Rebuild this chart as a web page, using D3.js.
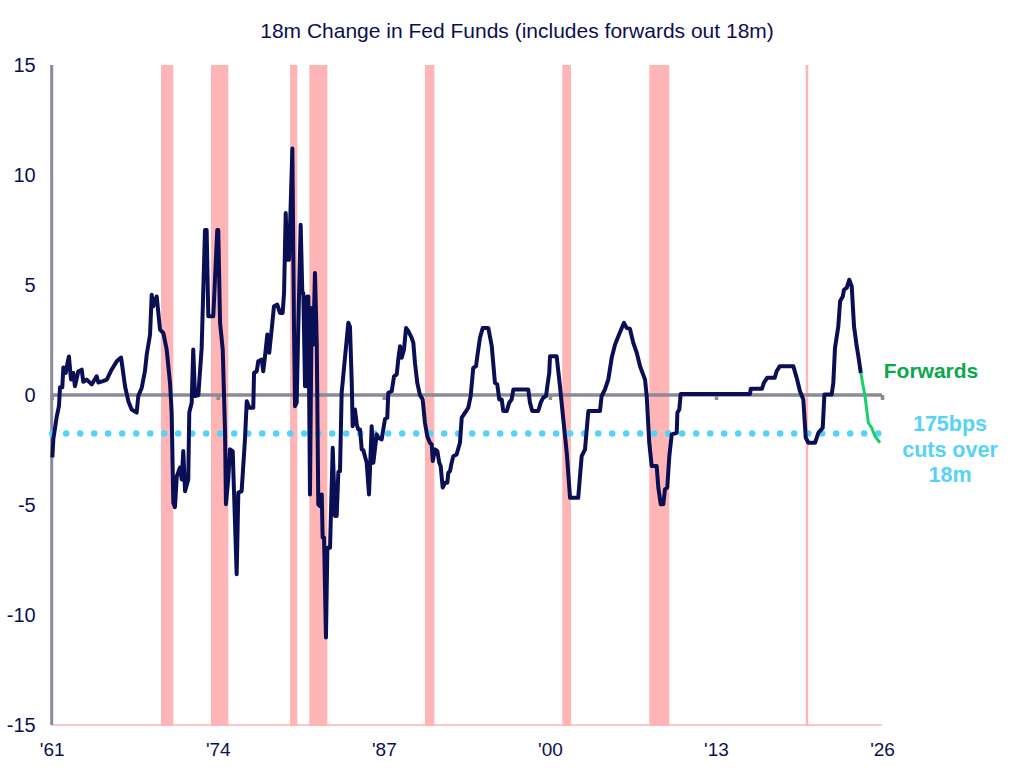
<!DOCTYPE html>
<html>
<head>
<meta charset="utf-8">
<script src="https://cdn.jsdelivr.net/npm/d3@7"></script>
<style>
  html, body { margin: 0; padding: 0; background: #fff; }
  svg { display: block; }
  text { font-family: "Liberation Sans", Arial, sans-serif; }
</style>
</head>
<body>
<svg id="chart" width="1034" height="768"></svg>
<script>
// ---- data ----
const title = "18m Change in Fed Funds (includes forwards out 18m)";
const xTickYears = [1961, 1974, 1987, 2000, 2013, 2026];
const xTickLabels = ["'61", "'74", "'87", "'00", "'13", "'26"];
const yTicks = [15, 10, 5, 0, -5, -10, -15];
const cutsLevel = -1.75;

const recessionStart = [1969.56, 1973.47, 1979.66, 1981.17, 1990.22, 2000.97, 2007.78, 2020.03];
const recessionEnd   = [1970.52, 1974.83, 1980.23, 1982.58, 1990.95, 2001.65, 2009.35, 2020.23];

// historical 18m change (year, value)
const histYears = [
 1961.05,1961.13,1961.39,1961.57,1961.65,1961.83,1961.91,1962.10,1962.25,1962.35,1962.51,1962.69,1962.82,
 1963.08,1963.35,1963.47,1963.74,1964.13,1964.52,1964.65,1965.02,1965.31,1965.70,1966.09,1966.43,1966.53,
 1966.74,1967.00,1967.26,1967.65,1967.78,1968.05,1968.30,1968.44,1968.70,1968.83,1968.95,1969.22,1969.48,
 1969.74,1970.00,1970.26,1970.39,1970.52,1970.65,1970.79,1971.04,1971.18,1971.30,1971.44,1971.69,1971.77,
 1971.96,1972.08,1972.22,1972.48,1972.74,1973.00,1973.13,1973.26,1973.65,1973.96,1974.04,1974.18,1974.39,
 1974.57,1974.64,1974.83,1974.96,1975.17,1975.48,1975.61,1975.87,1976.13,1976.27,1976.47,1976.78,1976.84,
 1977.05,1977.17,1977.44,1977.56,1977.70,1977.88,1978.03,1978.22,1978.40,1978.66,1978.87,1979.08,1979.19,
 1979.32,1979.44,1979.58,1979.84,1979.97,1980.05,1980.18,1980.30,1980.49,1980.62,1980.70,1980.83,1980.96,
 1981.01,1981.09,1981.22,1981.35,1981.48,1981.61,1981.75,1981.87,1982.00,1982.14,1982.21,1982.32,1982.47,
 1982.58,1982.79,1983.00,1983.18,1983.31,1983.44,1983.57,1983.70,1983.96,1984.22,1984.35,1984.49,1984.56,
 1984.74,1984.88,1985.00,1985.14,1985.27,1985.39,1985.66,1985.84,1986.05,1986.18,1986.44,1986.57,1986.83,
 1987.09,1987.27,1987.35,1987.62,1987.80,1988.01,1988.13,1988.27,1988.40,1988.58,1988.74,1988.92,1989.18,
 1989.31,1989.44,1989.62,1989.83,1990.04,1990.22,1990.40,1990.61,1990.75,1990.83,1991.01,1991.19,1991.34,
 1991.45,1991.61,1991.79,1991.97,1992.05,1992.18,1992.31,1992.44,1992.70,1992.96,1993.10,1993.35,1993.61,
 1993.80,1994.00,1994.22,1994.32,1994.53,1994.74,1995.18,1995.45,1995.70,1995.88,1996.04,1996.23,1996.35,
 1996.62,1996.82,1997.01,1997.14,1998.31,1998.44,1998.62,1999.09,1999.28,1999.48,1999.70,1999.80,1999.95,
 2000.01,2000.53,2000.79,2001.05,2001.32,2001.58,2002.22,2002.36,2002.49,2002.75,2003.01,2003.92,2004.05,
 2004.31,2004.57,2004.84,2005.10,2005.36,2005.80,2006.01,2006.27,2006.53,2006.80,2007.06,2007.45,2007.58,
 2007.78,2007.97,2008.36,2008.49,2008.68,2008.88,2009.01,2009.19,2009.35,2009.54,2009.93,2009.98,2010.13,
 2010.24,2015.67,2015.72,2016.60,2016.75,2017.00,2017.60,2017.75,2018.00,2019.06,2019.32,2019.58,2019.84,
 2020.03,2020.23,2020.76,2021.02,2021.36,2021.49,2022.06,2022.19,2022.32,2022.58,2022.72,2022.93,2023.03,
 2023.24,2023.44,2023.63,2023.81,2024.02,2024.15,2024.34
];
const histValues = [
 -2.84,-2.0,-1.0,-0.5,0.35,0.35,1.25,1.0,1.5,1.75,0.7,1.0,0.4,
 1.07,1.15,0.6,0.7,0.48,0.85,0.57,0.63,0.7,1.16,1.53,1.7,1.3,
 0.4,-0.28,-0.66,-0.8,-0.05,0.33,1.08,1.84,2.75,4.56,4.03,4.48,2.97,
 2.82,2.07,0.57,-0.8,-4.9,-5.1,-3.7,-3.3,-3.84,-2.55,-4.37,-3.84,-0.8,
 -0.35,2.07,-0.05,0.0,2.14,7.5,7.5,3.58,3.58,7.5,7.5,3.28,2.07,
 -1.7,-4.97,-3.76,-2.47,-2.55,-8.15,-4.44,-4.37,-2.02,-0.28,-0.58,-0.58,1.0,
 1.08,1.53,1.61,1.08,1.76,2.75,1.92,2.97,4.03,4.11,3.73,3.73,4.64,
 8.27,6.15,6.15,11.2,2.97,-0.51,-0.35,2.97,7.74,4.64,4.64,0.4,0.4,
 4.48,4.48,-4.52,3.96,2.3,5.55,2.37,-4.97,-5.05,-4.52,-6.48,-6.48,-11.02,
 -6.94,-6.94,-2.4,-5.5,-5.5,-3.5,-3.46,0.1,1.7,3.28,3.1,0.55,-1.42,
 -0.66,-1.34,-1.57,-1.57,-2.47,-2.5,-3.08,-4.52,-1.42,-3.08,-1.79,-1.94,-2.02,
 -1.1,-1.03,0.1,0.17,0.85,0.93,1.61,2.22,1.69,2.07,3.05,2.9,2.6,
 2.37,1.46,0.55,0.0,-0.2,-1.26,-1.87,-2.17,-2.25,-3.0,-2.47,-2.55,-3.08,
 -3.23,-4.21,-3.99,-3.99,-3.53,-3.46,-3.08,-2.78,-2.7,-2.17,-1.03,-0.81,-0.58,
 -0.05,1.23,1.31,1.76,2.6,3.05,3.05,2.22,0.55,0.48,-0.2,-0.2,-0.73,
 -0.73,-0.35,-0.2,0.25,0.25,-0.35,-0.73,-0.73,-0.35,-0.12,-0.05,0.4,1.0,
 1.76,1.76,0.4,-1.1,-2.62,-4.67,-4.67,-3.68,-2.78,-2.47,-0.73,-0.73,-0.05,
 0.25,0.7,1.69,2.29,2.67,3.28,3.05,3.0,2.37,1.92,1.31,0.7,-0.05,
 -2.17,-3.23,-3.23,-4.21,-4.97,-4.97,-4.29,-4.21,-2.78,-1.79,-1.72,-0.81,-0.66,
 0.05,0.05,0.28,0.28,0.55,0.78,0.78,1.08,1.31,1.31,0.78,0.17,-0.2,
 -1.94,-2.17,-2.17,-1.72,-1.49,0.02,0.02,0.55,2.14,3.12,4.26,4.48,4.79,
 4.87,5.24,4.94,3.12,2.22,1.76,1.0
];
// forwards
const fwdYears  = [2024.34, 2024.67, 2024.85, 2024.93, 2025.19, 2025.45, 2025.84];
const fwdValues = [1.0, -0.05, -0.89, -1.26, -1.49, -1.87, -2.17];

// ---- drawing ----
const svg = d3.select("#chart");
const navy = "#0a0f55";
const axisGray = "#8a8a98";
const pink = "#ffb5b5";
const cyan = "#55d2fa";

const x = d3.scaleLinear().domain([1961, 2026]).range([51.7, 882]);
const y = d3.scaleLinear().domain([-15, 15]).range([725, 65]);

// title
svg.append("text").attr("x", 517).attr("y", 38).attr("text-anchor", "middle")
  .attr("font-size", 21).attr("fill", navy).text(title);

// pink base line along bottom
svg.append("line").attr("x1", x(1961)).attr("x2", x(2026))
  .attr("y1", y(-15)).attr("y2", y(-15)).attr("stroke", pink).attr("stroke-width", 1.5);

// recession bars
svg.append("g").selectAll("rect").data(recessionStart).join("rect")
  .attr("x", (d) => x(d))
  .attr("width", (d, i) => x(recessionEnd[i]) - x(d))
  .attr("y", y(15)).attr("height", y(-15) - y(15) + 1)
  .attr("fill", pink);

// y axis line
svg.append("line").attr("x1", x(1961)).attr("x2", x(1961))
  .attr("y1", y(15)).attr("y2", y(-15)).attr("stroke", axisGray).attr("stroke-width", 3);

// zero axis with ticks
const xAxis = d3.axisBottom(x).tickValues(xTickYears).tickSize(5).tickFormat("");
const gx = svg.append("g").attr("transform", `translate(0,${y(0)})`).call(xAxis);
gx.select(".domain").attr("stroke", axisGray).attr("stroke-width", 3.5)
  .attr("d", `M${x(1961)},0H${x(2026)}`);
gx.selectAll(".tick line").attr("stroke", axisGray).attr("stroke-width", 3.5);

// y tick labels
const yAxis = d3.axisLeft(y).tickValues(yTicks).tickSize(0).tickPadding(16).tickFormat((d) => String(d));
const gy = svg.append("g").attr("transform", `translate(${x(1961)},0)`).call(yAxis);
gy.select(".domain").remove();
gy.selectAll("text").attr("font-size", 20).attr("fill", navy)
  .attr("font-family", "'Liberation Sans', Arial, sans-serif");

// x tick labels at bottom
const xLab = d3.axisBottom(x).tickValues(xTickYears).tickSize(0).tickPadding(18)
  .tickFormat((d, i) => xTickLabels[i]);
const gxl = svg.append("g").attr("transform", `translate(0,${y(-15)})`).call(xLab);
gxl.select(".domain").remove();
gxl.selectAll("text").attr("font-size", 19).attr("fill", navy)
  .attr("font-family", "'Liberation Sans', Arial, sans-serif");

// dotted cuts line
svg.append("line").attr("x1", x(1961) + 0.5).attr("x2", x(2026))
  .attr("y1", y(cutsLevel)).attr("y2", y(cutsLevel))
  .attr("stroke", cyan).attr("stroke-width", 6.5)
  .attr("stroke-linecap", "round").attr("stroke-dasharray", "0,14");

// lines
const line = d3.line().x((d) => x(d[0])).y((d) => y(d[1]));
const hist = histYears.map((yr, i) => [yr, histValues[i]]);
const fwd = fwdYears.map((yr, i) => [yr, fwdValues[i]]);

svg.append("path").datum(fwd).attr("d", line).attr("fill", "none")
  .attr("stroke", "#16d16a").attr("stroke-width", 3).attr("stroke-linejoin", "round");
svg.append("path").datum(hist).attr("d", line).attr("fill", "none")
  .attr("stroke", navy).attr("stroke-width", 4).attr("stroke-linejoin", "round");

// annotations
svg.append("text").attr("x", 931).attr("y", 378).attr("text-anchor", "middle")
  .attr("font-size", 21).attr("font-weight", "bold").attr("fill", "#0aa84c").text("Forwards");
const cutsText = ["175bps", "cuts over", "18m"];
svg.append("g").selectAll("text").data(cutsText).join("text")
  .attr("x", 950).attr("y", (d, i) => 431 + i * 25.5).attr("text-anchor", "middle")
  .attr("font-size", 21.5).attr("font-weight", "bold").attr("fill", cyan).text((d) => d);
</script>
</body>
</html>
